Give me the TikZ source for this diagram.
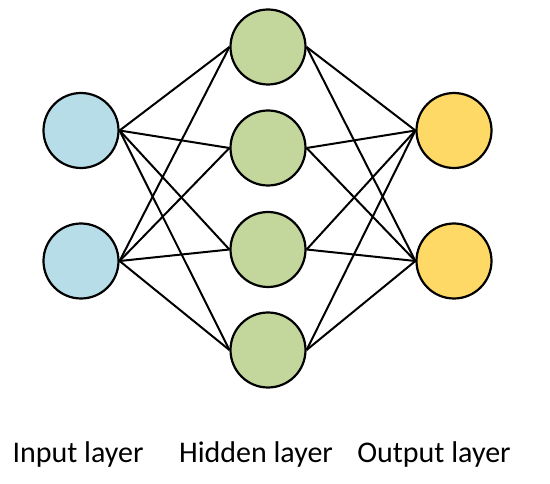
\documentclass[tikz,border=0pt]{standalone}
\usepackage{fontspec}
\setmainfont{Carlito}
\definecolor{inblue}{HTML}{B7DEE8}
\definecolor{hidgreen}{HTML}{C3D69B}
\definecolor{outyellow}{HTML}{FFD966}
\begin{document}
\begin{tikzpicture}[x=1pt,y=-1pt,
  neuron/.style={circle,draw=black,line width=2.2pt,minimum size=75pt,inner sep=0pt},
  conn/.style={line width=2pt,black},
  lbl/.style={anchor=base,font=\fontsize{30}{34}\selectfont,inner sep=0pt}]
\useasboundingbox[fill=white] (0,0) rectangle (550,484);
\node[neuron,fill=inblue] (i1) at (81,130.5) {};
\node[neuron,fill=inblue] (i2) at (81,261) {};
\node[neuron,fill=hidgreen] (h1) at (268,47) {};
\node[neuron,fill=hidgreen] (h2) at (268,148) {};
\node[neuron,fill=hidgreen] (h3) at (268,249.5) {};
\node[neuron,fill=hidgreen] (h4) at (268,350) {};
\node[neuron,fill=outyellow] (o1) at (454,130.5) {};
\node[neuron,fill=outyellow] (o2) at (454,261) {};
\foreach \i in {i1,i2}{\foreach \h in {h1,h2,h3,h4}{\draw[conn] (\i.east) -- (\h.west);}}
\foreach \h in {h1,h2,h3,h4}{\foreach \o in {o1,o2}{\draw[conn] (\h.east) -- (\o.west);}}
\node[lbl] (t1) at (78,463) {Input layer};
\node[lbl] (t2) at (256,463) {Hidden layer};
\node[lbl] (t3) at (434,463) {Output layer};
\end{tikzpicture}
\end{document}
